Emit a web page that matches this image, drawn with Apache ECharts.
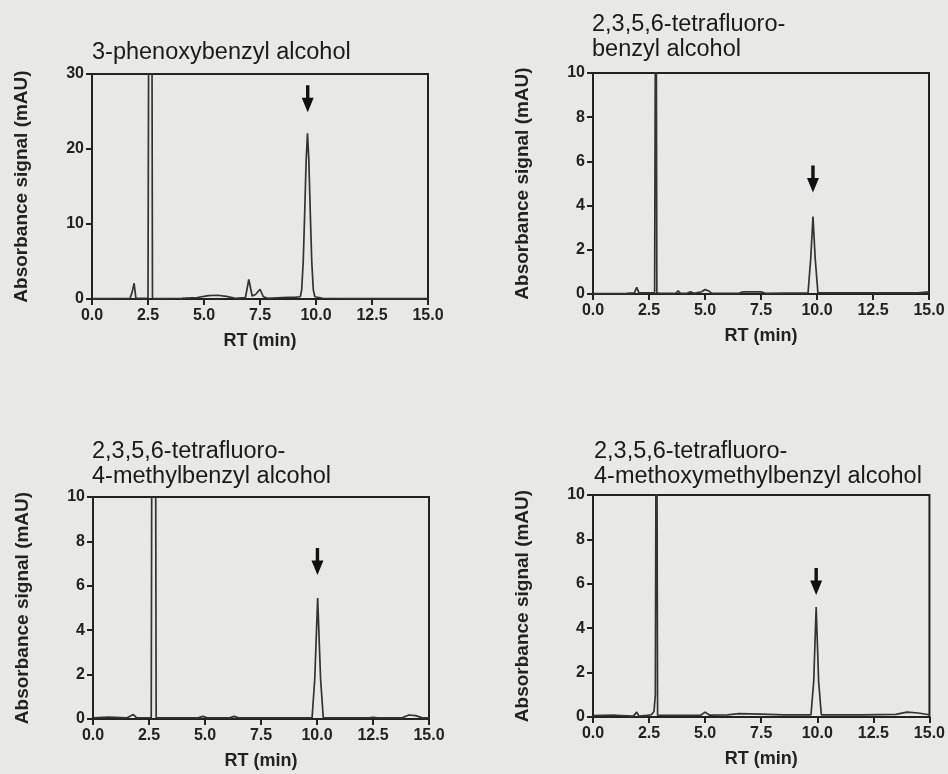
<!DOCTYPE html>
<html>
<head>
<meta charset="utf-8">
<title>HPLC chromatograms</title>
<script src="https://cdn.jsdelivr.net/npm/echarts@6/dist/echarts.min.js"></script>
<style>
  html, body { margin: 0; padding: 0; background: #e8e8e6; }
  #main { width: 948px; height: 774px; }
</style>
</head>
<body>
<div id="main"></div>
<script>
// panel titles
var titles = [
    '3-phenoxybenzyl alcohol',
    '2,3,5,6-tetrafluoro-\nbenzyl alcohol',
    '2,3,5,6-tetrafluoro-\n4-methylbenzyl alcohol',
    '2,3,5,6-tetrafluoro-\n4-methoxymethylbenzyl alcohol'
];

// y axis ranges (mAU)
var yMax = [30, 10, 10, 10];
var yStep = [10, 2, 2, 2];

// x axis ticks (min)
var rtTicks = [0, 2.5, 5, 7.5, 10, 12.5, 15];

// traces: retention time (min) / absorbance (mAU)
var rt1 = [0, 1.0, 1.7, 1.8, 1.88, 1.96, 2.50, 2.55, 2.66, 2.70, 2.8, 4.0, 4.7, 5.2, 5.6, 6.0, 6.4, 6.85, 7.0, 7.15, 7.3, 7.5, 7.65, 7.85, 8.5, 9.1, 9.3, 9.36, 9.43, 9.50, 9.56, 9.62, 9.68, 9.74, 9.81, 9.88, 9.95, 10.3, 12.5, 15];
var abs1 = [0.05, 0.05, 0.1, 1.0, 2.1, 0.1, 0.1, 60, 60, 0.1, 0.05, 0.1, 0.2, 0.45, 0.5, 0.35, 0.1, 0.2, 2.6, 0.4, 0.6, 1.3, 0.3, 0.1, 0.2, 0.25, 0.3, 1.2, 5, 12, 18.5, 22.1, 18.5, 12, 5, 1.2, 0.3, 0.1, 0.05, 0.05];

var rt2 = [0, 1.5, 1.85, 1.95, 2.05, 2.75, 2.79, 2.81, 2.83, 2.85, 3.0, 3.7, 3.8, 3.9, 4.2, 4.35, 4.5, 4.85, 5.0, 5.15, 5.3, 6.5, 6.7, 7.5, 7.7, 9.6, 9.72, 9.82, 9.92, 10.04, 14.5, 15];
var abs2 = [0.02, 0.03, 0.05, 0.3, 0.05, 0.05, 0.05, 20, 20, 0.05, 0.03, 0.03, 0.15, 0.03, 0.03, 0.1, 0.03, 0.1, 0.2, 0.15, 0.03, 0.03, 0.1, 0.1, 0.03, 0.05, 1.6, 3.5, 1.6, 0.05, 0.05, 0.1];

var rt3 = [0, 0.7, 1.5, 1.8, 1.95, 2.6, 2.64, 2.78, 2.82, 3.2, 4.7, 4.9, 5.1, 6.1, 6.3, 6.5, 9.78, 9.9, 10.03, 10.16, 10.28, 12.3, 12.5, 12.7, 13.8, 14.1, 14.4, 14.7, 15];
var abs3 = [0.05, 0.08, 0.05, 0.2, 0.05, 0.05, 20, 20, 0.05, 0.05, 0.05, 0.12, 0.05, 0.05, 0.12, 0.05, 0.05, 1.8, 5.45, 1.8, 0.05, 0.05, 0.08, 0.05, 0.05, 0.18, 0.15, 0.05, 0.05];

var rt4 = [0, 1.0, 1.8, 1.95, 2.05, 2.4, 2.6, 2.72, 2.78, 2.83, 2.86, 2.88, 3.5, 4.8, 5.0, 5.2, 6.0, 6.5, 7.5, 8.5, 9.72, 9.84, 9.95, 10.06, 10.18, 12.0, 13.5, 14.0, 14.5, 15];
var abs4 = [0.06, 0.08, 0.04, 0.22, 0.04, 0.07, 0.1, 0.25, 1.0, 20, 20, 0.08, 0.07, 0.08, 0.22, 0.08, 0.1, 0.15, 0.13, 0.1, 0.1, 1.6, 4.95, 1.6, 0.1, 0.1, 0.12, 0.22, 0.18, 0.1];

// arrow marks above the analyte peak (centre of the arrow)
var arrowRt = [9.63, 9.82, 10.02, 9.95];
var arrowAbs = [26.7, 5.2, 7.1, 6.1];

var traces = [[rt1, abs1], [rt2, abs2], [rt3, abs3], [rt4, abs4]];

// layout of the four panels
var grids = [
    { left: 92, top: 74, width: 336, height: 225 },
    { left: 593, top: 73, width: 336, height: 221 },
    { left: 93, top: 497, width: 336, height: 222 },
    { left: 593, top: 495, width: 337, height: 222 }
];
var titlePos = [[92, 40], [592, 12], [92, 439], [594, 439]];

var FONT = '"Liberation Sans", Arial, Helvetica, sans-serif';
var INK = '#222222';
var arrowPath = 'path://M4.3,0 L7.7,0 L7.7,13 L12,13 L6,28 L0,13 L4.3,13 Z';

function pairs(xs, ys) {
    var out = [];
    for (var i = 0; i < xs.length; i++) out.push([xs[i], ys[i]]);
    return out;
}

var myChart = echarts.init(document.getElementById('main'));

var option = {
    backgroundColor: '#e8e8e6',
    animation: false,
    title: [],
    grid: [],
    xAxis: [],
    yAxis: [],
    series: []
};

for (var i = 0; i < 4; i++) {
    option.title.push({
        text: titles[i],
        left: titlePos[i][0],
        top: titlePos[i][1],
        padding: 0,
        textStyle: {
            fontFamily: FONT,
            fontSize: 23.5,
            fontWeight: 'normal',
            color: '#1a1a1a',
            lineHeight: 25
        }
    });

    var g = grids[i];
    option.grid.push({
        left: g.left, top: g.top, width: g.width, height: g.height,
        show: true,
        borderColor: INK,
        borderWidth: 2,
        backgroundColor: 'transparent'
    });

    option.xAxis.push({
        type: 'value',
        gridIndex: i,
        min: rtTicks[0],
        max: rtTicks[rtTicks.length - 1],
        interval: 2.5,
        name: 'RT (min)',
        nameLocation: 'middle',
        nameGap: 33,
        nameTextStyle: { fontFamily: FONT, fontSize: 18, fontWeight: 'bold', color: INK },
        axisLine: { onZero: false, lineStyle: { color: INK, width: 2 } },
        axisTick: { inside: false, length: 6, lineStyle: { color: INK, width: 2 } },
        axisLabel: {
            margin: 9,
            fontFamily: FONT, fontSize: 16, fontWeight: 'bold', color: INK,
            showMinLabel: true, showMaxLabel: true,
            formatter: function (v) { return v.toFixed(1); }
        },
        splitLine: { show: false }
    });

    option.yAxis.push({
        type: 'value',
        gridIndex: i,
        min: 0,
        max: yMax[i],
        interval: yStep[i],
        name: 'Absorbance signal (mAU)',
        nameLocation: 'middle',
        nameGap: 61,
        nameTextStyle: { fontFamily: FONT, fontSize: 19, fontWeight: 'bold', color: INK },
        axisLine: { onZero: false, lineStyle: { color: INK, width: 2 } },
        axisTick: { inside: false, length: 6, lineStyle: { color: INK, width: 2 } },
        axisLabel: {
            margin: 8,
            fontFamily: FONT, fontSize: 16, fontWeight: 'bold', color: INK
        },
        splitLine: { show: false }
    });

    // chromatogram trace
    option.series.push({
        type: 'line',
        xAxisIndex: i,
        yAxisIndex: i,
        data: pairs(traces[i][0], traces[i][1]),
        showSymbol: false,
        clip: true,
        silent: true,
        lineStyle: { color: '#333333', width: 1.7 }
    });

    // downward arrow over the analyte peak
    option.series.push({
        type: 'scatter',
        xAxisIndex: i,
        yAxisIndex: i,
        data: [[arrowRt[i], arrowAbs[i]]],
        symbol: arrowPath,
        symbolSize: [12, 27],
        silent: true,
        itemStyle: { color: '#111', opacity: 1 }
    });
}

myChart.setOption(option);
</script>
</body>
</html>
